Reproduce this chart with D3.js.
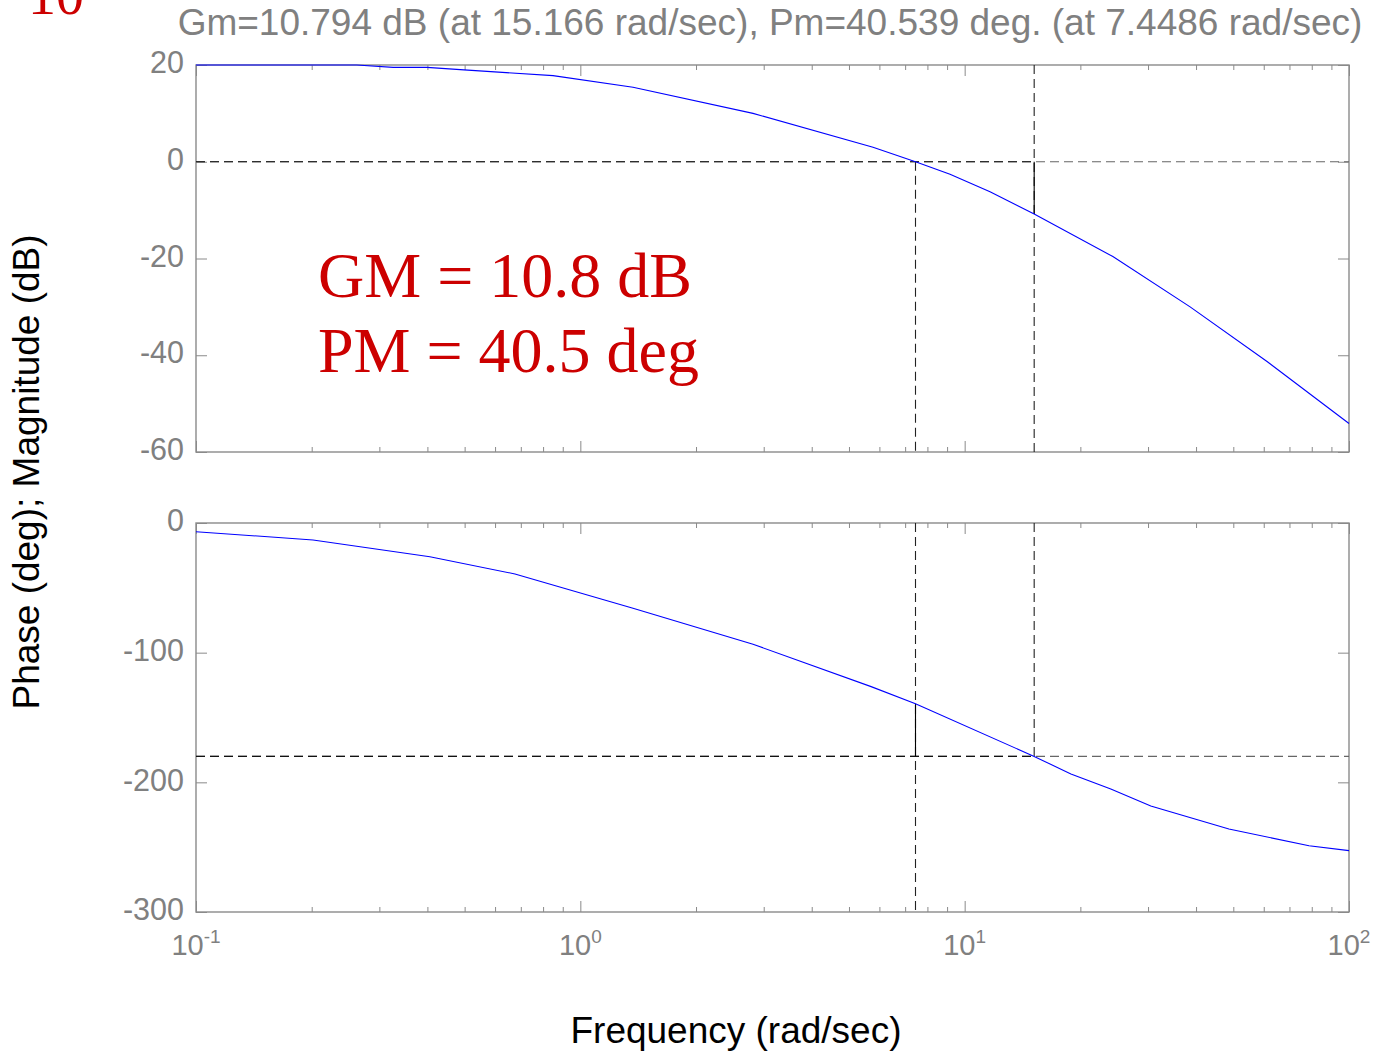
<!DOCTYPE html>
<html>
<head>
<meta charset="utf-8">
<script src="https://cdn.jsdelivr.net/npm/d3@7"></script>
<style>
  html, body { margin: 0; padding: 0; background: #fff; }
  svg { display: block; }
</style>
</head>
<body>
<svg id="chart" width="1377" height="1053"></svg>
<script>
// ---- data ----
const magFreq = [0.1, 0.262, 0.326, 0.399, 0.498, 0.849, 1.371, 2.814, 5.775, 7.4486, 9.16, 11.64, 15.166, 24.3, 38.6, 61.2, 100];
const magDb   = [20, 20, 19.5, 19.5, 19.0, 17.8, 15.4, 10.0, 3.0, 0, -2.6, -6.2, -10.794, -19.6, -30.0, -41.3, -54.1];
const phFreq  = [0.1, 0.2016, 0.406, 0.676, 1.371, 2.814, 5.71, 7.4486, 15.166, 18.9, 24.0, 30.5, 48.7, 78.7, 100];
const phDeg   = [-6.7, -13.1, -26.0, -39.3, -65.8, -93.5, -126.2, -139.461, -180, -193.6, -205.1, -218.2, -236.0, -248.9, -252.7];
const magTicks = [20, 0, -20, -40, -60];
const phTicks  = [0, -100, -200, -300];
const decadeTicks = [0.1, 1, 10, 100];
const decadeExp = ["-1", "0", "1", "2"];
const gainMarginDb = 10.794, wGain = 15.166;
const phaseMarginDeg = 40.539, wPhase = 7.4486;
const titleText = "Gm=10.794 dB (at 15.166 rad/sec), Pm=40.539 deg. (at 7.4486 rad/sec)";
const annotations = ["GM = 10.8 dB", "PM = 40.5 deg"];

// ---- layout ----
const svg = d3.select("#chart");
const L = 196, R = 1349;
const magTop = 65, magBot = 452, phTop = 523, phBot = 912;
const axisCol = "#8a8a8a", labelCol = "#808080";
const sans = "'Liberation Sans', Arial, sans-serif";
const serif = "'Liberation Serif', 'Times New Roman', serif";

const x = d3.scaleLog().domain([0.1, 100]).range([L, R]);
const yMag = d3.scaleLinear().domain([-60, 20]).range([magBot, magTop]);
const yPh = d3.scaleLinear().domain([-300, 0]).range([phBot, phTop]);

const minorTicks = [];
[0.1, 1, 10].forEach(d => { for (let k = 2; k <= 9; k++) minorTicks.push(d * k); });

function panel(y, top, bot, ticks) {
  const g = svg.append("g");
  g.append("rect").attr("x", L).attr("y", top).attr("width", R - L).attr("height", bot - top)
    .attr("fill", "none").attr("stroke", axisCol).attr("stroke-width", 1.4);
  const axB = d3.axisBottom(x).tickValues(decadeTicks).tickSize(-11).tickFormat("");
  const axBm = d3.axisBottom(x).tickValues(minorTicks).tickSize(-5).tickFormat("");
  const axT = d3.axisTop(x).tickValues(decadeTicks).tickSize(-11).tickFormat("");
  const axTm = d3.axisTop(x).tickValues(minorTicks).tickSize(-5).tickFormat("");
  [[axB, bot], [axBm, bot], [axT, top], [axTm, top]].forEach(([a, yy]) => {
    const ag = g.append("g").attr("transform", `translate(0,${yy})`).call(a);
    ag.select(".domain").remove();
    ag.selectAll("line").attr("stroke", axisCol);
  });
  const axL = d3.axisLeft(y).tickValues(ticks).tickSize(-11).tickFormat("");
  const axR = d3.axisRight(y).tickValues(ticks).tickSize(-11).tickFormat("");
  [[axL, L], [axR, R]].forEach(([a, xx]) => {
    const ag = g.append("g").attr("transform", `translate(${xx},0)`).call(a);
    ag.select(".domain").remove();
    ag.selectAll("line").attr("stroke", axisCol);
  });
  g.selectAll("text.yl").data(ticks).enter().append("text")
    .attr("x", L - 12).attr("y", d => y(d)).attr("dy", "0.27em")
    .attr("text-anchor", "end").attr("font-family", sans).attr("font-size", 30.5)
    .attr("fill", labelCol).text(d => d);
  return g;
}

const gMag = panel(yMag, magTop, magBot, magTicks);
const gPh = panel(yPh, phTop, phBot, phTicks);

const dash = "9,5";
function seg(g, x1, y1, x2, y2, col, dashed) {
  g.append("line").attr("x1", x1).attr("y1", y1).attr("x2", x2).attr("y2", y2)
    .attr("stroke", col).attr("stroke-width", 1.1)
    .attr("stroke-dasharray", dashed ? dash : null);
}

// magnitude panel reference lines
seg(gMag, L, yMag(0), R, yMag(0), "#666", true);
seg(gMag, L, yMag(0), x(wGain), yMag(0), "#111", true);
seg(gMag, x(wPhase), yMag(0), x(wPhase), magBot, "#222", true);
seg(gMag, x(wGain), magTop, x(wGain), magBot, "#222", true);
seg(gMag, x(wGain), yMag(0), x(wGain), yMag(-gainMarginDb), "#000", false);

// phase panel reference lines
seg(gPh, L, yPh(-180), R, yPh(-180), "#666", true);
seg(gPh, L, yPh(-180), x(wGain), yPh(-180), "#111", true);
seg(gPh, x(wPhase), phTop, x(wPhase), phBot, "#222", true);
seg(gPh, x(wGain), phTop, x(wGain), yPh(-180), "#222", true);
seg(gPh, x(wPhase), yPh(-180), x(wPhase), yPh(-180 + phaseMarginDeg), "#000", false);

// curves
const magLine = d3.line().x((d, i) => x(magFreq[i])).y(d => yMag(d));
gMag.append("path").attr("d", magLine(magDb)).attr("fill", "none").attr("stroke", "#0000ff").attr("stroke-width", 1.1);
const phLine = d3.line().x((d, i) => x(phFreq[i])).y(d => yPh(d));
gPh.append("path").attr("d", phLine(phDeg)).attr("fill", "none").attr("stroke", "#0000ff").attr("stroke-width", 1.1);

// x tick labels 10^n
decadeTicks.forEach((d, i) => {
  const t = svg.append("text").attr("x", x(d)).attr("y", 955).attr("text-anchor", "middle")
    .attr("font-family", sans).attr("font-size", 29).attr("fill", labelCol);
  t.append("tspan").text("10");
  t.append("tspan").attr("font-size", 19).attr("dy", -12).text(decadeExp[i]);
});

// title
svg.append("text").attr("x", 770).attr("y", 35).attr("text-anchor", "middle")
  .attr("font-family", sans).attr("font-size", 37).attr("fill", labelCol).text(titleText);

// axis labels
svg.append("text").attr("x", 736).attr("y", 1043).attr("text-anchor", "middle")
  .attr("font-family", sans).attr("font-size", 37).attr("fill", "#000").text("Frequency (rad/sec)");
svg.append("text").attr("transform", "translate(39,472) rotate(-90)").attr("text-anchor", "middle")
  .attr("font-family", sans).attr("font-size", 37).attr("fill", "#000").text("Phase (deg); Magnitude (dB)");

// red annotations
svg.append("text").attr("x", 28).attr("y", 14).attr("font-family", serif).attr("font-size", 56)
  .attr("fill", "#cc0000").text("10");
svg.append("text").attr("x", 318).attr("y", 297).attr("font-family", serif).attr("font-size", 64)
  .attr("fill", "#cc0000").text(annotations[0]);
svg.append("text").attr("x", 318).attr("y", 372).attr("font-family", serif).attr("font-size", 64)
  .attr("fill", "#cc0000").text(annotations[1]);
</script>
</body>
</html>
